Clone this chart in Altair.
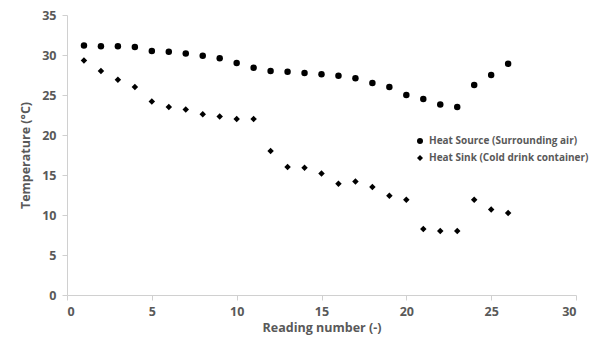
import altair as alt
import pandas as pd

readings = list(range(1, 27))
heat_source = [31.2, 31.1, 31.1, 31.0, 30.5, 30.4, 30.2, 29.9, 29.6, 29.0, 28.4, 28.0, 27.9,
               27.75, 27.6, 27.4, 27.1, 26.5, 26.0, 25.0, 24.5, 23.8, 23.5, 26.25, 27.5, 28.9]
heat_sink = [29.3, 28.0, 26.9, 26.0, 24.2, 23.5, 23.2, 22.6, 22.3, 22.0, 22.0, 18.0, 16.0,
             15.9, 15.2, 13.9, 14.2, 13.5, 12.4, 11.9, 8.25, 8.0, 8.0, 11.9, 10.7, 10.25]
series_names = ["Heat Source (Surrounding air)", "Heat Sink (Cold drink container)"]
x_ticks = [0, 5, 10, 15, 20, 25, 30]
y_ticks = [0, 5, 10, 15, 20, 25, 30, 35]

df = pd.concat([
    pd.DataFrame({"reading": readings, "temp": heat_source, "series": series_names[0]}),
    pd.DataFrame({"reading": readings, "temp": heat_sink, "series": series_names[1]}),
])

font = "Open Sans"
gray = "#595959"

chart = alt.Chart(df).mark_point(filled=True, opacity=1, color="black", size=42).encode(
    x=alt.X("reading:Q", title="Reading number (-)",
            scale=alt.Scale(domain=[0, 30], nice=False),
            axis=alt.Axis(values=x_ticks, grid=False, tickSize=5, labelPadding=5,
                          titlePadding=4)),
    y=alt.Y("temp:Q", title="Temperature (°C)",
            scale=alt.Scale(domain=[0, 35], nice=False),
            axis=alt.Axis(values=y_ticks, grid=False, tickSize=5, labelPadding=6,
                          titlePadding=9)),
    shape=alt.Shape("series:N", title=None,
                    scale=alt.Scale(domain=series_names, range=["circle", "diamond"]),
                    legend=alt.Legend(orient="none", legendX=348, legendY=121,
                                      symbolFillColor="black", symbolStrokeColor="black",
                                      symbolSize=36, symbolOpacity=1,
                                      labelFont=font, labelFontSize=10,
                                      labelFontWeight="bold", labelColor=gray,
                                      rowPadding=5, labelOffset=4)),
).properties(
    width=509, height=280,
    autosize=alt.AutoSizeParams(type="none"),
    padding={"left": 59, "top": 7, "right": 20, "bottom": 42},
).configure_view(stroke=None).configure_axis(
    domainColor="#d0d0d0", tickColor="#d0d0d0", labelFont=font, labelFontSize=12.5,
    labelFontWeight="bold", labelColor=gray, titleFont=font, titleFontSize=12.5,
    titleFontWeight="bold", titleColor=gray,
)

chart.save("out.html", embed_options={"renderer": "svg", "actions": False})
